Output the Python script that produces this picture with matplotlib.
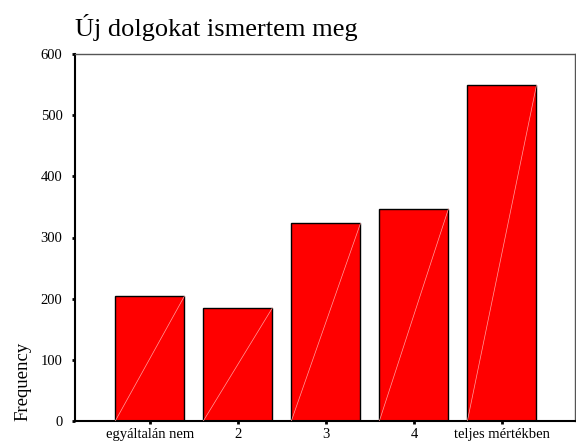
import matplotlib.pyplot as plt
import numpy as np

categories = ['egyáltalán nem', '2', '3', '4', 'teljes mértékben']
freq = [204, 185, 323, 347, 549]
yticks = [0, 100, 200, 300, 400, 500, 600]

plt.rcParams['font.family'] = ['Liberation Serif', 'DejaVu Serif']

fig = plt.figure(figsize=(5.76, 4.47), dpi=100)
ax = fig.add_axes([75 / 576, 1 - 421 / 447, 500 / 576, (421 - 54) / 447])

x = np.arange(len(categories))
width = 0.785
ax.bar(x, freq, width=width, color='#ff0000', edgecolor='black', linewidth=1.0, zorder=2)
# light diagonal inside each bar
for xi, v in zip(x, freq):
    ax.plot([xi - width / 2, xi + width / 2], [0, v], color='#ffa0a0', lw=0.5, zorder=3)

ax.set_xlim(-0.85, 4.83)
ax.set_ylim(0, 600)
ax.set_xticks(x)
ax.set_xticklabels(categories, fontsize=10.5)
ax.set_yticks(yticks)
ax.set_yticklabels([str(t) for t in yticks], fontsize=10.5)
ax.tick_params(direction='out', length=2, width=2, color='black')
ax.tick_params(axis='y', pad=7)
ax.tick_params(axis='x', pad=3)

for s in ['left', 'bottom']:
    ax.spines[s].set_linewidth(1.5)
    ax.spines[s].set_color('black')
for s in ['top', 'right']:
    ax.spines[s].set_linewidth(1.0)
    ax.spines[s].set_color('#555555')

ax.set_ylabel('Frequency', fontsize=13.5, loc='bottom')
ax.yaxis.set_label_coords(-0.087, 0.0)
fig.text(75 / 576, 1 - 36 / 447, 'Új dolgokat ismertem meg', fontsize=19, ha='left', va='baseline')

plt.savefig('out.png', dpi=100)
